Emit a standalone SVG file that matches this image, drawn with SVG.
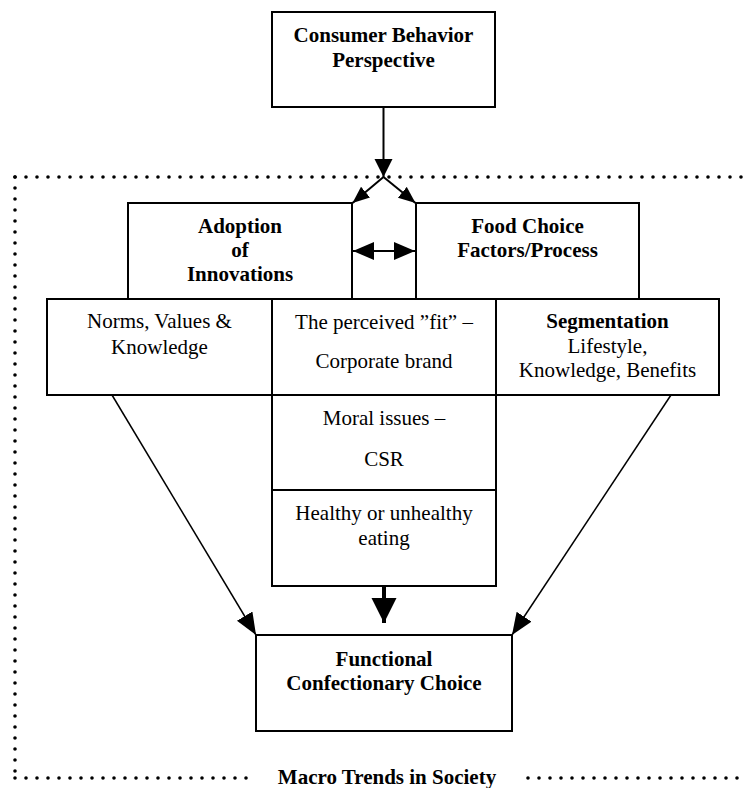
<svg xmlns="http://www.w3.org/2000/svg" width="744" height="788" viewBox="0 0 744 788">
<style>
.box{fill:#fff;stroke:#000;stroke-width:2}
.t{font-family:"Liberation Serif","Times New Roman",serif;font-size:21px;fill:#000;text-anchor:middle}
.b{font-weight:bold}
.dot{fill:none;stroke:#000;stroke-width:3.6;stroke-linecap:round;stroke-dasharray:0 11}
.ln{fill:none;stroke:#000;stroke-width:2}
.thin{fill:none;stroke:#000;stroke-width:1.5}
</style>
<defs>
<marker id="hA" markerUnits="userSpaceOnUse" markerWidth="20" markerHeight="20" refX="18" refY="9" orient="auto"><path d="M0,0 L18,9 L0,18 z" fill="#000"/></marker>
<marker id="hS" markerUnits="userSpaceOnUse" markerWidth="20" markerHeight="16" refX="17" refY="7" orient="auto"><path d="M0,0 L17,7 L0,14 z" fill="#000"/></marker>
<marker id="hD" markerUnits="userSpaceOnUse" markerWidth="22" markerHeight="20" refX="21" refY="9" orient="auto-start-reverse"><path d="M0,0 L21,9 L0,18 z" fill="#000"/></marker>
<marker id="hT" markerUnits="userSpaceOnUse" markerWidth="26" markerHeight="26" refX="25" refY="12.5" orient="auto"><path d="M0,0 L25,12.5 L0,25 z" fill="#000"/></marker>
<marker id="hL" markerUnits="userSpaceOnUse" markerWidth="24" markerHeight="20" refX="22" refY="9" orient="auto"><path d="M0,0 L22,9 L0,18 z" fill="#000"/></marker>
</defs>
<rect width="744" height="788" fill="#fff"/>
<g id="macro-trends">
<path class="dot" d="M15,177 H744"/>
<path class="dot" d="M15,177 V778"/>
<path class="dot" d="M15,778 H252"/>
<path class="dot" d="M528,778 H744"/>
<text class="t b" x="387" y="784">Macro Trends in Society</text>
</g>
<g id="consumer-behavior">
<rect class="box" x="272" y="12" width="223" height="95"/>
<text class="t b" x="383.5" y="42">Consumer Behavior</text>
<text class="t b" x="383.5" y="67">Perspective</text>
</g>
<g id="adoption">
<rect class="box" x="128" y="203" width="224" height="96"/>
<text class="t b" x="240" y="233">Adoption</text>
<text class="t b" x="240" y="257">of</text>
<text class="t b" x="240" y="281">Innovations</text>
</g>
<g id="food-choice">
<rect class="box" x="416" y="203" width="223" height="96"/>
<text class="t b" x="527.5" y="233">Food Choice</text>
<text class="t b" x="527.5" y="257">Factors/Process</text>
</g>
<g id="norms">
<rect class="box" x="47" y="299" width="225" height="96"/>
<text class="t" x="159.5" y="328">Norms, Values &amp;</text>
<text class="t" x="159.5" y="354">Knowledge</text>
</g>
<g id="fit">
<rect class="box" x="272" y="299" width="224" height="96"/>
<text class="t" x="384" y="329">The perceived ”fit” –</text>
<text class="t" x="384" y="368">Corporate brand</text>
</g>
<g id="segmentation">
<rect class="box" x="496" y="299" width="223" height="96"/>
<text class="t b" x="607.5" y="328">Segmentation</text>
<text class="t" x="607.5" y="353">Lifestyle,</text>
<text class="t" x="607.5" y="377">Knowledge, Benefits</text>
</g>
<g id="moral">
<rect class="box" x="272" y="395" width="224" height="95"/>
<text class="t" x="384" y="425">Moral issues –</text>
<text class="t" x="384" y="466">CSR</text>
</g>
<g id="healthy">
<rect class="box" x="272" y="490" width="224" height="96"/>
<text class="t" x="384" y="520">Healthy or unhealthy</text>
<text class="t" x="384" y="545">eating</text>
</g>
<g id="functional">
<rect class="box" x="256" y="635" width="256" height="96"/>
<text class="t b" x="384" y="666">Functional</text>
<text class="t b" x="384" y="690">Confectionary Choice</text>
</g>
<g id="connectors">
<line class="ln" x1="383.5" y1="107" x2="383.5" y2="177" marker-end="url(#hA)"/>
<line class="ln" x1="383.5" y1="177" x2="352.5" y2="203" marker-end="url(#hS)"/>
<line class="ln" x1="383.5" y1="177" x2="415.5" y2="203" marker-end="url(#hS)"/>
<line class="ln" x1="353" y1="251" x2="415" y2="251" marker-start="url(#hD)" marker-end="url(#hD)"/>
<line x1="384" y1="586" x2="384" y2="623" stroke="#000" stroke-width="4" marker-end="url(#hT)"/>
<line class="thin" x1="112" y1="395" x2="256" y2="635" marker-end="url(#hL)"/>
<line class="thin" x1="671" y1="395" x2="512" y2="635" marker-end="url(#hL)"/>
</g>
</svg>
